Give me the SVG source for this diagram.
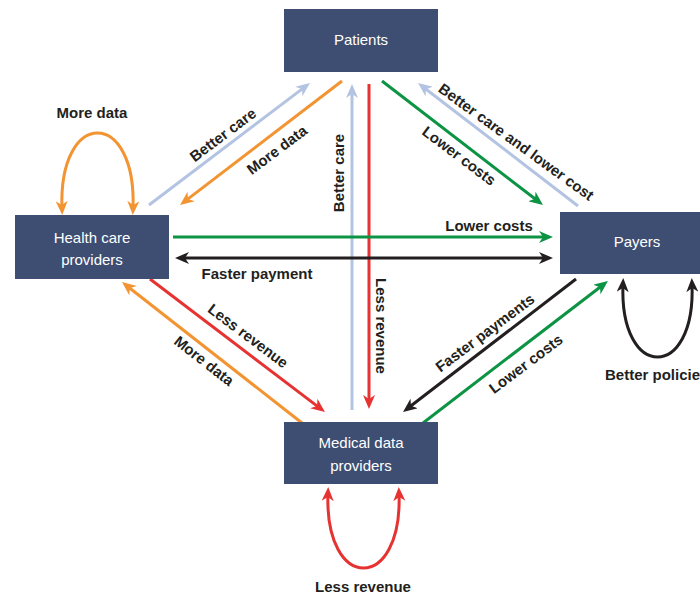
<svg xmlns="http://www.w3.org/2000/svg" width="700" height="595" viewBox="0 0 700 595">
  <style>
    .box { fill: #3d4e72; }
    .btxt { fill: #ffffff; font-family: "Liberation Sans", Arial, sans-serif; font-size: 15px; text-anchor: middle; }
    .lbl { fill: #231f20; font-family: "Liberation Sans", Arial, sans-serif; font-size: 15px; font-weight: bold; text-anchor: middle; }
    .c { fill: none; stroke-width: 3; }
    .blue { stroke: #b3c3e2; marker-end: url(#ah-blue); }
    .orange { stroke: #f39433; marker-end: url(#ah-orange); }
    .green { stroke: #0c9444; marker-end: url(#ah-green); }
    .red { stroke: #e63331; marker-end: url(#ah-red); }
    .black { stroke: #231f20; marker-end: url(#ah-black); }
  </style>
  <defs>
    <marker id="ah-blue" markerUnits="userSpaceOnUse" viewBox="0 0 14 12" markerWidth="14" markerHeight="12" refX="8" refY="6" orient="auto-start-reverse"><path d="M0,0 L14,6 L0,12 L4,6 z" fill="#b3c3e2"/></marker>
    <marker id="ah-orange" markerUnits="userSpaceOnUse" viewBox="0 0 14 12" markerWidth="14" markerHeight="12" refX="8" refY="6" orient="auto-start-reverse"><path d="M0,0 L14,6 L0,12 L4,6 z" fill="#f39433"/></marker>
    <marker id="ah-green" markerUnits="userSpaceOnUse" viewBox="0 0 14 12" markerWidth="14" markerHeight="12" refX="8" refY="6" orient="auto-start-reverse"><path d="M0,0 L14,6 L0,12 L4,6 z" fill="#0c9444"/></marker>
    <marker id="ah-red" markerUnits="userSpaceOnUse" viewBox="0 0 14 12" markerWidth="14" markerHeight="12" refX="8" refY="6" orient="auto-start-reverse"><path d="M0,0 L14,6 L0,12 L4,6 z" fill="#e63331"/></marker>
    <marker id="ah-black" markerUnits="userSpaceOnUse" viewBox="0 0 14 12" markerWidth="14" markerHeight="12" refX="8" refY="6" orient="auto-start-reverse"><path d="M0,0 L14,6 L0,12 L4,6 z" fill="#231f20"/></marker>
  </defs>

  <rect width="700" height="595" fill="#ffffff"/>

  <!-- connectors -->
  <g id="connectors">
    <!-- Health care providers <-> Patients -->
    <path class="c blue" d="M149,205 L305.2,86.6"/>
    <path class="c orange" d="M342,81 L184.8,201.4"/>
    <!-- Medical data providers <-> Patients -->
    <path class="c blue" d="M352,410 L352,90"/>
    <path class="c red" d="M369,84 L369,403"/>
    <!-- Patients <-> Payers -->
    <path class="c green" d="M382,81 L538.2,201.3"/>
    <path class="c blue" d="M578,206 L422.8,86.7"/>
    <!-- Health care providers <-> Payers -->
    <path class="c green" d="M173,237 L547,237"/>
    <path class="c black" style="marker-start: url(#ah-black)" d="M181,258 L547,258"/>
    <!-- Health care providers <-> Medical data providers -->
    <path class="c red" d="M150,279 L320.2,408.4"/>
    <path class="c orange" d="M302,423 L126.7,285.7"/>
    <!-- Payers <-> Medical data providers -->
    <path class="c black" d="M576,279 L407.8,408.3"/>
    <path class="c green" d="M423,423 L603.2,284.7"/>
    <!-- self loops -->
    <path class="c orange" style="marker-start: url(#ah-orange)" d="M62,209 C58,107.7 137,107.7 133,209"/>
    <path class="c black" style="marker-start: url(#ah-black)" d="M623,284 C619,381.3 696,381.3 692,284"/>
    <path class="c red" style="marker-start: url(#ah-red)" d="M328,493 C324,593 403,593 399,493"/>
  </g>

  <!-- connector labels -->
  <g id="labels">
    <text class="lbl" transform="translate(223,135) rotate(-37)" y="5">Better care</text>
    <text class="lbl" transform="translate(277,150) rotate(-37)" y="5">More data</text>
    <text class="lbl" transform="translate(339,173) rotate(-90)" y="5">Better care</text>
    <text class="lbl" transform="translate(381,326) rotate(90)" y="5">Less revenue</text>
    <text class="lbl" transform="translate(459,156) rotate(37)" y="5">Lower costs</text>
    <text class="lbl" transform="translate(516,142) rotate(36)" y="5">Better care and lower cost</text>
    <text class="lbl" x="489" y="231">Lower costs</text>
    <text class="lbl" x="257" y="279">Faster payment</text>
    <text class="lbl" transform="translate(248,336) rotate(37)" y="5">Less revenue</text>
    <text class="lbl" transform="translate(204,361) rotate(38)" y="5">More data</text>
    <text class="lbl" transform="translate(485,333) rotate(-37)" y="5">Faster payments</text>
    <text class="lbl" transform="translate(526,364) rotate(-37)" y="5">Lower costs</text>
    <text class="lbl" x="92" y="118">More data</text>
    <text class="lbl" x="605" y="380" style="text-anchor: start">Better policies</text>
    <text class="lbl" x="363" y="592">Less revenue</text>
  </g>

  <!-- nodes -->
  <g id="patients">
    <rect class="box" x="284" y="9" width="154" height="63"/>
    <text class="btxt" x="361" y="45">Patients</text>
  </g>
  <g id="health-care-providers">
    <rect class="box" x="15" y="215" width="154" height="64"/>
    <text class="btxt" x="92" y="243">Health care</text>
    <text class="btxt" x="92" y="265">providers</text>
  </g>
  <g id="payers">
    <rect class="box" x="560" y="212" width="154" height="62"/>
    <text class="btxt" x="637" y="247">Payers</text>
  </g>
  <g id="medical-data-providers">
    <rect class="box" x="284" y="422" width="154" height="62"/>
    <text class="btxt" x="361" y="448">Medical data</text>
    <text class="btxt" x="361" y="471">providers</text>
  </g>
</svg>
